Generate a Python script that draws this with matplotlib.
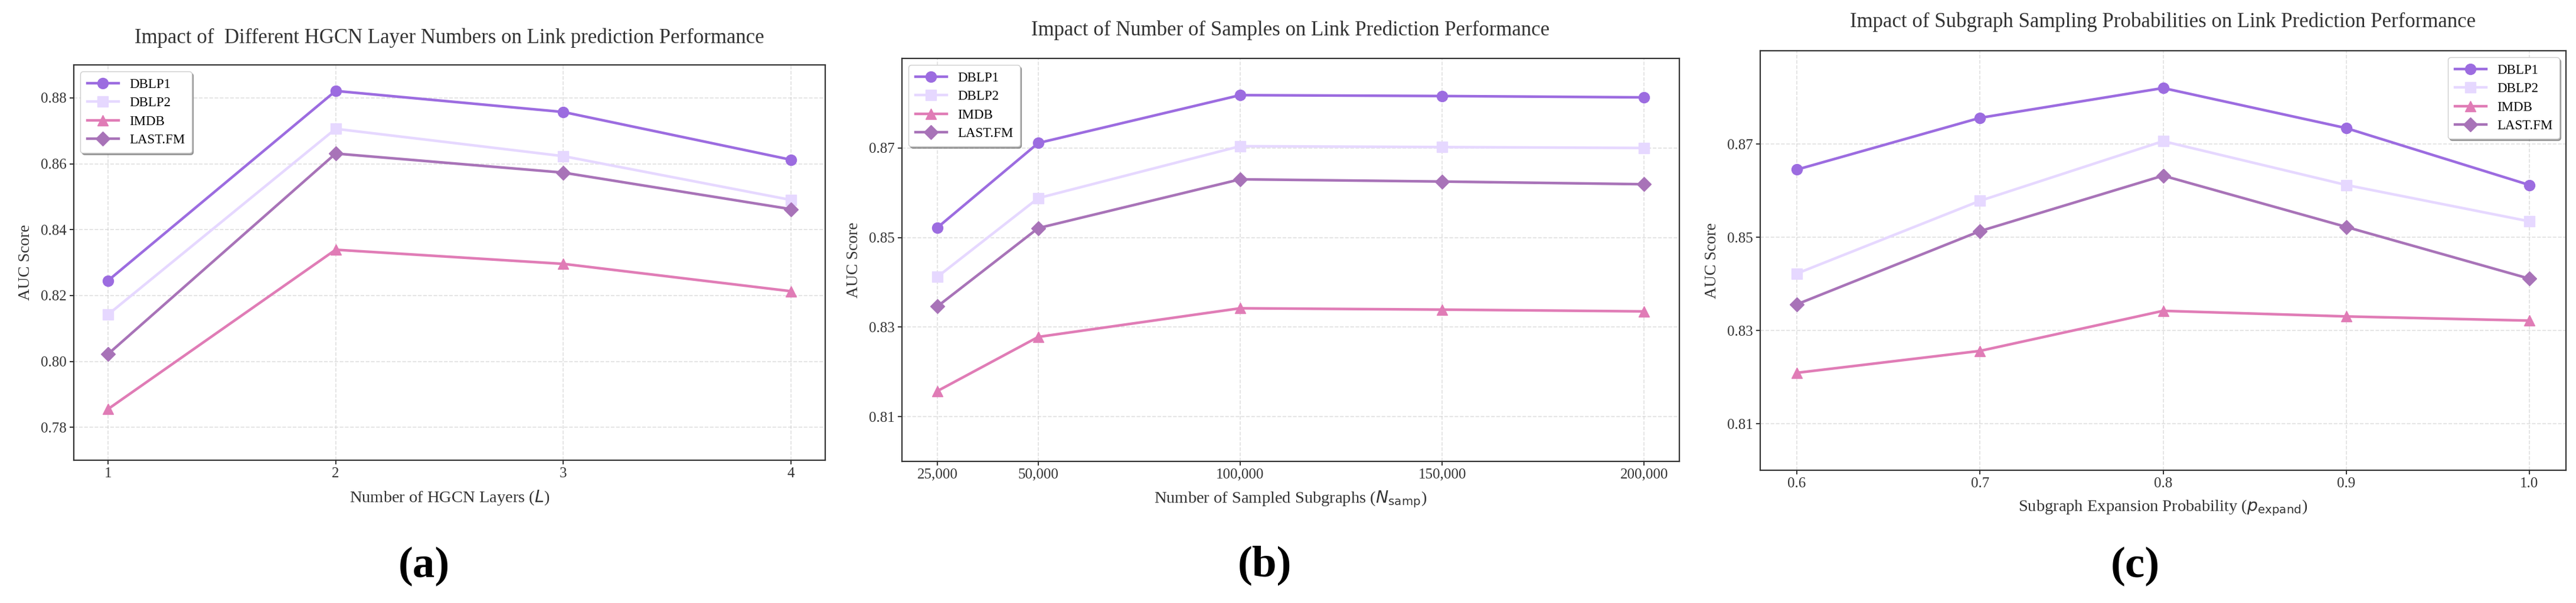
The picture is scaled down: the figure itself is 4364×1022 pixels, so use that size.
import matplotlib
matplotlib.use("Agg")
import matplotlib.pyplot as plt
from matplotlib.ticker import FuncFormatter

# ---------------- data ----------------
series_names = ["DBLP1", "DBLP2", "IMDB", "LAST.FM"]

layers = [1, 2, 3, 4]
layers_dblp1 = [0.8245, 0.8821, 0.8757, 0.8612]
layers_dblp2 = [0.8142, 0.8706, 0.8623, 0.8490]
layers_imdb = [0.7855, 0.8339, 0.8296, 0.8213]
layers_lastfm = [0.8022, 0.8631, 0.8573, 0.8462]

samples = [25000, 50000, 100000, 150000, 200000]
samples_dblp1 = [0.8522, 0.8711, 0.8818, 0.8816, 0.8813]
samples_dblp2 = [0.8412, 0.8588, 0.8704, 0.8702, 0.8700]
samples_imdb = [0.8157, 0.8278, 0.8342, 0.8339, 0.8335]
samples_lastfm = [0.8346, 0.8521, 0.8630, 0.8625, 0.8619]

probs = [0.6, 0.7, 0.8, 0.9, 1.0]
probs_dblp1 = [0.8645, 0.8756, 0.8820, 0.8734, 0.8612]
probs_dblp2 = [0.8422, 0.8578, 0.8706, 0.8612, 0.8534]
probs_imdb = [0.8209, 0.8256, 0.8342, 0.8330, 0.8321]
probs_lastfm = [0.8356, 0.8513, 0.8632, 0.8522, 0.8411]

titles = [
    "Impact of  Different HGCN Layer Numbers on Link prediction Performance",
    "Impact of Number of Samples on Link Prediction Performance",
    "Impact of Subgraph Sampling Probabilities on Link Prediction Performance",
]
xlabels = [
    r"Number of HGCN Layers ($L$)",
    r"Number of Sampled Subgraphs ($N_{\mathrm{samp}}$)",
    r"Subgraph Expansion Probability ($p_{\mathrm{expand}}$)",
]
ylabel = "AUC Score"
panel_letters = ["(a)", "(b)", "(c)"]

yticks_a = [0.78, 0.80, 0.82, 0.84, 0.86, 0.88]
yticks_bc = [0.81, 0.83, 0.85, 0.87]

# ---------------- style ----------------
colors = ["#9C6CE0", "#E6D8FF", "#E07CB6", "#A873B8"]
markers = ["o", "s", "^", "D"]
msizes = [13, 13, 13, 12]

plt.rcParams["font.family"] = ["Liberation Serif", "DejaVu Serif"]
plt.rcParams["mathtext.fontset"] = "dejavusans"

W, H = 4364, 1022
fig = plt.figure(figsize=(W / 100, H / 100), dpi=100)


def px_axes(l, t, r, b):
    return fig.add_axes([l / W, 1 - b / H, (r - l) / W, (b - t) / H])


ax_a = px_axes(125, 110, 1398, 780)
ax_b = px_axes(1528, 99, 2845, 782)
ax_c = px_axes(2982, 86, 4347, 797)

panels = [
    (ax_a, layers, [layers_dblp1, layers_dblp2, layers_imdb, layers_lastfm],
     (0.77, 0.89), yticks_a, "upper left", 27),
    (ax_b, samples, [samples_dblp1, samples_dblp2, samples_imdb, samples_lastfm],
     (0.80, 0.89), yticks_bc, "upper left", 28),
    (ax_c, probs, [probs_dblp1, probs_dblp2, probs_imdb, probs_lastfm],
     (0.80, 0.89), yticks_bc, "upper right", 29),
]

for i, (ax, xs, ys_list, ylim, yticks, loc, pad) in enumerate(panels):
    for name, ys, c, m, ms in zip(series_names, ys_list, colors, markers, msizes):
        ax.plot(xs, ys, color=c, marker=m, markersize=ms, linewidth=3.2,
                label=name, markeredgecolor=c)
    ax.set_ylim(*ylim)
    ax.set_yticks(yticks)
    ax.set_xticks(xs)
    ax.grid(True, linestyle="--", color="#cccccc", alpha=0.6, linewidth=1.2)
    ax.set_axisbelow(True)
    for sp in ax.spines.values():
        sp.set_color("#333333")
        sp.set_linewidth(1.6)
    ax.tick_params(axis="both", labelsize=18, colors="#333333",
                   direction="out", length=5, width=1.4)
    ax.set_title(titles[i], fontsize=25, pad=pad, color="#333333")
    ax.set_xlabel(xlabels[i], fontsize=20.5, labelpad=10, color="#333333")
    ax.set_ylabel(ylabel, fontsize=20, labelpad=10, color="#333333")
    leg = ax.legend(loc=loc, fontsize=16.5, frameon=True, fancybox=True,
                    shadow=True, handlelength=2.3, handletextpad=0.8,
                    labelspacing=0.45, borderpad=0.5, framealpha=1.0,
                    edgecolor="#cccccc")

ax_a.yaxis.set_major_formatter(FuncFormatter(lambda v, p: f"{v:.2f}"))
ax_b.xaxis.set_major_formatter(FuncFormatter(lambda v, p: f"{int(v):,}"))
ax_c.xaxis.set_major_formatter(FuncFormatter(lambda v, p: f"{v:.1f}"))

letter_pos = [(718, 960), (2142, 958), (3617, 960)]
for (x, y), s in zip(letter_pos, panel_letters):
    fig.text(x / W, 1 - y / H, s, fontsize=54, fontweight="bold",
             ha="center", va="center", color="black")

fig.savefig("out.png", dpi=100, facecolor="white")
